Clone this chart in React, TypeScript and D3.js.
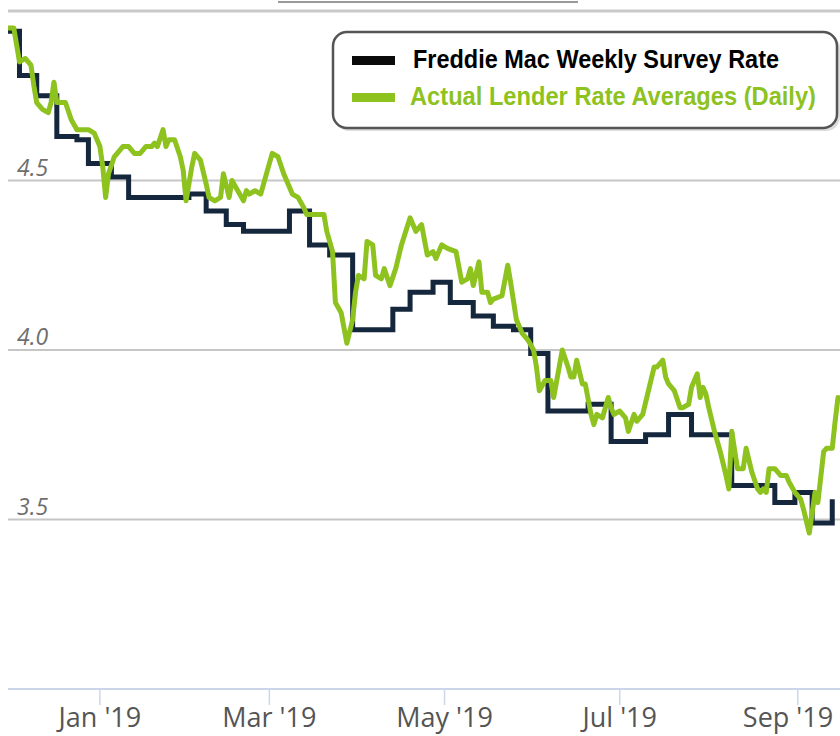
import * as d3 from 'd3';
import React from 'react';

type Pt = { date: Date; value: number };

const W = 840;
const H = 736;

// Freddie Mac weekly survey (step starts)
const weeklyDates = [
  '2018-11-30', '2018-12-04', '2018-12-10', '2018-12-17', '2018-12-24', '2018-12-28',
  '2019-01-05', '2019-01-11', '2019-01-18', '2019-01-25', '2019-02-01', '2019-02-07',
  '2019-02-14', '2019-02-20', '2019-02-28', '2019-03-08', '2019-03-15', '2019-03-22',
  '2019-03-30', '2019-04-06', '2019-04-13', '2019-04-19', '2019-04-27', '2019-05-03',
  '2019-05-11', '2019-05-18', '2019-05-25', '2019-05-31', '2019-06-06', '2019-06-13',
  '2019-06-20', '2019-06-28', '2019-07-05', '2019-07-10', '2019-07-18', '2019-07-26',
  '2019-08-02', '2019-08-09', '2019-08-16', '2019-08-24', '2019-08-31', '2019-09-06',
  '2019-09-13',
];
const weeklyRates = [
  4.94, 4.81, 4.75, 4.63, 4.62, 4.55,
  4.51, 4.45, 4.45, 4.45, 4.46, 4.41,
  4.37, 4.35, 4.35, 4.41, 4.31, 4.28,
  4.06, 4.06, 4.12, 4.17, 4.2, 4.14,
  4.1, 4.07, 4.06, 3.99, 3.82, 3.82,
  3.84, 3.73, 3.73, 3.75, 3.81, 3.75,
  3.75, 3.6, 3.6, 3.55, 3.58, 3.49,
  3.56,
];

// daily lender averages
const dailyDates = [
  '2018-11-30', '2018-12-02', '2018-12-04', '2018-12-06', '2018-12-08', '2018-12-09',
  '2018-12-10', '2018-12-12', '2018-12-14', '2018-12-15', '2018-12-16', '2018-12-17',
  '2018-12-18', '2018-12-20', '2018-12-22', '2018-12-24', '2018-12-26', '2018-12-28',
  '2018-12-30', '2019-01-01', '2019-01-02', '2019-01-03', '2019-01-04', '2019-01-06',
  '2019-01-09', '2019-01-11', '2019-01-13', '2019-01-15', '2019-01-17', '2019-01-19',
  '2019-01-20', '2019-01-21', '2019-01-23', '2019-01-24', '2019-01-25', '2019-01-27',
  '2019-01-29', '2019-01-30', '2019-01-31', '2019-02-02', '2019-02-03', '2019-02-05',
  '2019-02-07', '2019-02-08', '2019-02-10', '2019-02-12', '2019-02-13', '2019-02-15',
  '2019-02-16', '2019-02-18', '2019-02-20', '2019-02-21', '2019-02-22', '2019-02-24',
  '2019-02-26', '2019-02-27', '2019-03-02', '2019-03-04', '2019-03-06', '2019-03-09',
  '2019-03-11', '2019-03-13', '2019-03-14', '2019-03-16', '2019-03-20', '2019-03-21',
  '2019-03-23', '2019-03-24', '2019-03-26', '2019-03-28', '2019-03-30', '2019-03-31',
  '2019-04-01', '2019-04-03', '2019-04-04', '2019-04-06', '2019-04-07', '2019-04-09',
  '2019-04-10', '2019-04-12', '2019-04-14', '2019-04-16', '2019-04-19', '2019-04-21',
  '2019-04-23', '2019-04-25', '2019-04-27', '2019-04-28', '2019-04-30', '2019-05-02',
  '2019-05-05', '2019-05-07', '2019-05-09', '2019-05-10', '2019-05-11', '2019-05-13',
  '2019-05-14', '2019-05-16', '2019-05-17', '2019-05-18', '2019-05-21', '2019-05-23',
  '2019-05-24', '2019-05-26', '2019-05-28', '2019-05-30', '2019-06-01', '2019-06-02',
  '2019-06-03', '2019-06-05', '2019-06-07', '2019-06-08', '2019-06-11', '2019-06-13',
  '2019-06-14', '2019-06-15', '2019-06-16', '2019-06-18', '2019-06-19', '2019-06-21',
  '2019-06-22', '2019-06-23', '2019-06-25', '2019-06-27', '2019-06-28', '2019-06-29',
  '2019-07-01', '2019-07-03', '2019-07-04', '2019-07-06', '2019-07-07', '2019-07-09',
  '2019-07-11', '2019-07-13', '2019-07-14', '2019-07-16', '2019-07-17', '2019-07-18',
  '2019-07-20', '2019-07-22', '2019-07-23', '2019-07-25', '2019-07-26', '2019-07-28',
  '2019-07-29', '2019-07-30', '2019-07-31', '2019-08-01', '2019-08-03', '2019-08-05',
  '2019-08-07', '2019-08-08', '2019-08-09', '2019-08-11', '2019-08-13', '2019-08-14',
  '2019-08-16', '2019-08-18', '2019-08-19', '2019-08-20', '2019-08-21', '2019-08-22',
  '2019-08-24', '2019-08-26', '2019-08-28', '2019-08-29', '2019-08-31', '2019-09-02',
  '2019-09-03', '2019-09-05', '2019-09-06', '2019-09-07', '2019-09-08', '2019-09-10',
  '2019-09-11', '2019-09-13', '2019-09-14', '2019-09-15',
];
const dailyRates = [
  4.95, 4.95, 4.85, 4.86, 4.84, 4.78,
  4.73, 4.71, 4.7, 4.73, 4.79, 4.73,
  4.73, 4.73, 4.68, 4.65, 4.65, 4.65,
  4.64, 4.6, 4.54, 4.45, 4.52, 4.57,
  4.6, 4.6, 4.58, 4.58, 4.6, 4.6,
  4.61, 4.6, 4.65, 4.6, 4.62, 4.62,
  4.57, 4.53, 4.44, 4.54, 4.58, 4.56,
  4.49, 4.45, 4.44, 4.45, 4.52, 4.45,
  4.5, 4.47, 4.44, 4.47, 4.46, 4.47,
  4.46, 4.49, 4.58, 4.57, 4.52, 4.46,
  4.45, 4.42, 4.4, 4.4, 4.4, 4.35,
  4.29, 4.14, 4.11, 4.02, 4.09, 4.17,
  4.22, 4.21, 4.32, 4.31, 4.22, 4.21,
  4.24, 4.19, 4.24, 4.31, 4.39, 4.35,
  4.37, 4.28, 4.29, 4.27, 4.31, 4.3,
  4.29, 4.2, 4.21, 4.24, 4.19, 4.26,
  4.17, 4.17, 4.14, 4.15, 4.16, 4.25,
  4.2, 4.09, 4.05, 4.03, 4.0, 3.95,
  3.88, 3.91, 3.91, 3.86, 4.0, 3.95,
  3.92, 3.92, 3.97, 3.9, 3.9, 3.81,
  3.78, 3.81, 3.8, 3.86, 3.83, 3.81,
  3.82, 3.8, 3.76, 3.81, 3.79, 3.81,
  3.88, 3.95, 3.95, 3.97, 3.92, 3.9,
  3.88, 3.83, 3.83, 3.84, 3.89, 3.93,
  3.86, 3.89, 3.87, 3.83, 3.76, 3.7,
  3.63, 3.59, 3.76, 3.65, 3.65, 3.71,
  3.64, 3.59, 3.58, 3.59, 3.58, 3.65,
  3.65, 3.63, 3.63, 3.61, 3.58, 3.56,
  3.53, 3.46, 3.52, 3.58, 3.55, 3.7,
  3.71, 3.71, 3.79, 3.86,
];

const yTicks = [3.5, 4.0, 4.5];
const seriesNames = ['Freddie Mac Weekly Survey Rate', 'Actual Lender Rate Averages (Daily)'];
const seriesColors = ['#14273d', '#8dc21f'];
const legendColors = ['#0a0a0a', '#8dc21f'];

const parse = d3.utcParse('%Y-%m-%d');

const App: React.FC = () => {
  const x = d3.scaleUtc()
    .domain([parse('2018-11-30') as Date, parse('2019-09-15') as Date])
    .range([8, 838]);
  const y = d3.scaleLinear().domain([3, 5]).range([689, 11]);

  const weekly: Pt[] = weeklyDates.map((d, i) => ({ date: parse(d) as Date, value: weeklyRates[i] }));
  const daily: Pt[] = dailyDates.map((d, i) => ({ date: parse(d) as Date, value: dailyRates[i] }));

  const stepLine = d3.line<Pt>().x(d => x(d.date)).y(d => y(d.value)).curve(d3.curveStepAfter);
  const dayLine = d3.line<Pt>().x(d => x(d.date)).y(d => y(d.value));

  const xTicks = x.ticks(d3.utcMonth.every(2) as d3.CountableTimeInterval);
  const fmt = d3.utcFormat("%b '%y");

  return (
    <svg width={W} height={H} style={{ position: 'absolute', left: 0, top: 0, background: '#fff' }}>
      <defs>
        <clipPath id="plot">
          <rect x={8} y={0} width={W - 8} height={690} />
        </clipPath>
      </defs>

      {/* cut-off title underline */}
      <line x1={278} x2={578} y1={2} y2={2} stroke="#9a9a9a" strokeWidth={2} />

      {/* top line */}
      <line x1={8} x2={W} y1={y(5)} y2={y(5)} stroke="#c9c9c9" strokeWidth={3} />

      {/* grid + y labels */}
      {yTicks.map(t => (
        <g key={t}>
          <line x1={8} x2={W} y1={y(t)} y2={y(t)} stroke="#c6c6c6" strokeWidth={2} />
          <text x={17} y={y(t) - 5} fontFamily="Open Sans, sans-serif" fontStyle="italic"
            fontSize={23} fill="#6e6e6e">{d3.format('.1f')(t)}</text>
        </g>
      ))}

      {/* x axis */}
      <line x1={8} x2={W} y1={y(3)} y2={y(3)} stroke="#ccd6eb" strokeWidth={2} />
      {xTicks.map(t => {
        const tx = x(t);
        const lx = Math.min(tx, W - 2 - 50);
        return (
          <g key={t.toISOString()}>
            <line x1={tx} x2={tx} y1={y(3)} y2={y(3) + 16} stroke="#ccd6eb" strokeWidth={1.5} />
            <text x={lx} y={727} textAnchor="middle" fontFamily="Open Sans, sans-serif"
              fontSize={27} fill="#555">{fmt(t)}</text>
          </g>
        );
      })}

      {/* series */}
      <g clipPath="url(#plot)">
        <path d={stepLine(weekly) ?? ''} fill="none" stroke={seriesColors[0]} strokeWidth={5} />
        <path d={dayLine(daily) ?? ''} fill="none" stroke={seriesColors[1]} strokeWidth={5}
          strokeLinejoin="round" strokeLinecap="round" />
      </g>

      {/* legend */}
      <rect x={335} y={35} width={505} height={96} rx={14} fill="#bbb" opacity={0.5} />
      <rect x={333} y={32} width={504} height={96} rx={14} fill="#fff" stroke="#555" strokeWidth={2.5} />
      {seriesNames.map((name, i) => (
        <g key={name}>
          <rect x={352} y={56 + i * 37} width={43} height={9} fill={legendColors[i]} />
          <text x={i === 0 ? 413 : 410} y={68 + i * 37} fontFamily="Liberation Sans, Arial, sans-serif"
            fontWeight="bold" fontSize={25} fill={i === 0 ? '#000' : seriesColors[1]}
            textLength={i === 0 ? 366 : 406} lengthAdjust="spacingAndGlyphs">{name}</text>
        </g>
      ))}
    </svg>
  );
};

export default App;
